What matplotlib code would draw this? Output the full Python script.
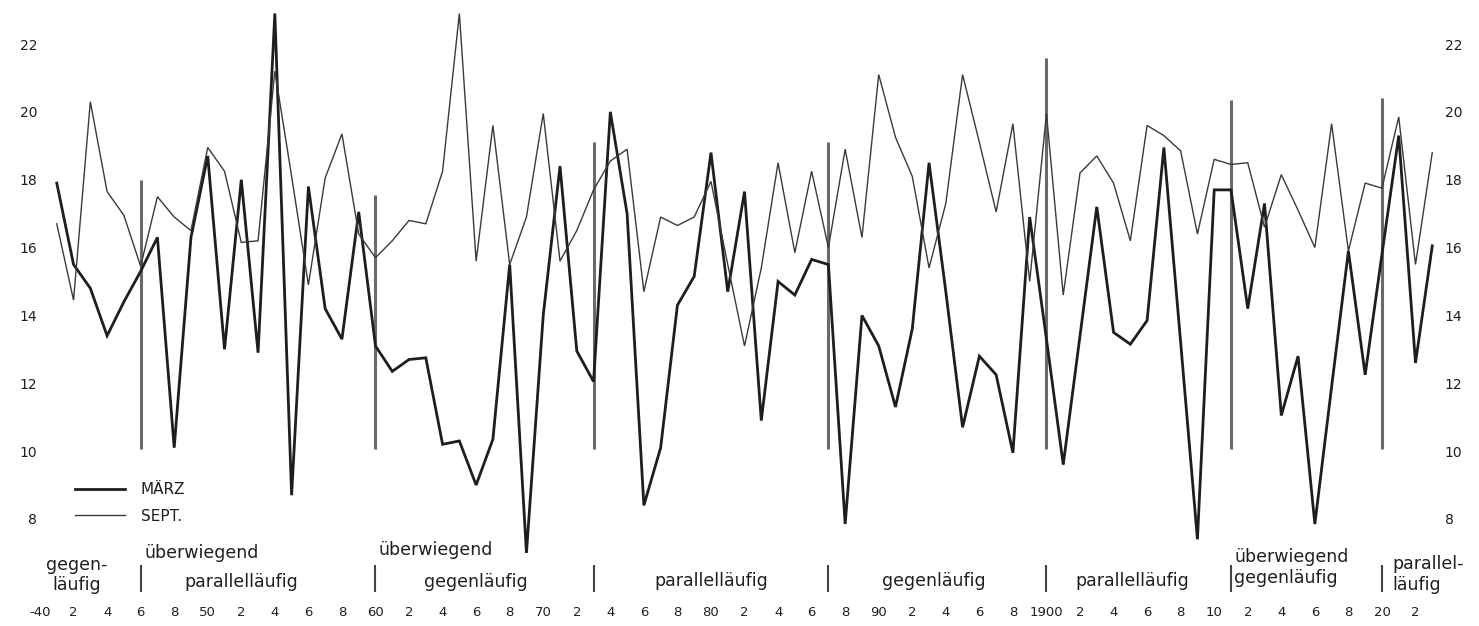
import matplotlib.pyplot as plt
import numpy as np

# Jahresmittel (Wasserstand) März / September, 1841-1923
years = np.arange(1841, 1924)
maerz = [17.9, 15.5, 14.8, 13.4, 14.4, 15.3, 16.3, 10.1, 16.3, 18.7,
         13.0, 18.0, 12.9, 22.9, 8.7, 17.8, 14.2, 13.3, 17.05, 13.1,
         12.35, 12.7, 12.75, 10.2, 10.3, 9.0, 10.35, 15.5, 7.0, 14.0,
         18.4, 12.95, 12.05, 20.0, 17.0, 8.4, 10.1, 14.3, 15.15, 18.8,
         14.7, 17.65, 10.9, 15.0, 14.6, 15.65, 15.5, 7.85, 14.0, 13.1,
         11.3, 13.6, 18.5, 14.7, 10.7, 12.8, 12.25, 9.95, 16.9, 13.3,
         9.6, 13.4, 17.2, 13.5, 13.15, 13.85, 18.95, 13.2, 7.4, 17.7,
         17.7, 14.2, 17.3, 11.05, 12.8, 7.85, 11.9, 15.9, 12.25, 15.8,
         19.3, 12.6, 16.05]
sept = [16.7, 14.45, 20.3, 17.65, 16.95, 15.45, 17.5, 16.9, 16.5, 18.95,
        18.25, 16.15, 16.2, 21.2, 18.1, 14.9, 18.05, 19.35, 16.4, 15.7,
        16.2, 16.8, 16.7, 18.25, 22.9, 15.6, 19.6, 15.5, 16.9, 19.95,
        15.6, 16.5, 17.7, 18.55, 18.9, 14.7, 16.9, 16.65, 16.9, 17.95,
        15.5, 13.1, 15.4, 18.5, 15.85, 18.25, 16.0, 18.9, 16.3, 21.1,
        19.25, 18.1, 15.4, 17.3, 21.1, 19.1, 17.05, 19.65, 15.0, 19.95,
        14.6, 18.2, 18.7, 17.9, 16.2, 19.6, 19.3, 18.85, 16.4, 18.6,
        18.45, 18.5, 16.6, 18.15, 17.1, 16.0, 19.65, 15.9, 17.9, 17.75,
        19.85, 15.5, 18.8]

tick_years = np.arange(1840, 1923, 2)
tick_labels = ['-40', '2', '4', '6', '8', '50', '2', '4', '6', '8',
               '60', '2', '4', '6', '8', '70', '2', '4', '6', '8',
               '80', '2', '4', '6', '8', '90', '2', '4', '6', '8',
               '1900', '2', '4', '6', '8', '10', '2', '4', '6', '8',
               '20', '2']

# Grenzen der Abschnitte
sep_years = [1846, 1860, 1873, 1887, 1900, 1911, 1920]
sep_tops = [18.0, 17.55, 19.1, 19.1, 21.6, 20.35, 20.4]
sep_bottom = 10.05

phase_texts = ['gegen-\nläufig', 'überwiegend', 'parallelläufig',
               'überwiegend', 'gegenläufig', 'parallelläufig', 'gegenläufig',
               'parallelläufig', 'überwiegend\ngegenläufig', 'parallel-\nläufig']
phase_x = [1842.2, 1846.2, 1852.0, 1860.2, 1866.0, 1880.0, 1893.3,
           1905.1, 1911.2, 1920.6]
phase_y = [-0.027, 0.013, -0.040, 0.018, -0.040, -0.038, -0.038,
           -0.038, -0.014, -0.026]
phase_ha = ['center', 'left', 'center', 'left', 'center', 'center', 'center',
            'center', 'left', 'left']

W, H = 1479, 626
fig = plt.figure(figsize=(W / 100, H / 100), dpi=100)
ax = fig.add_axes([40 / W, 1 - 560 / H, 1402 / W, 555 / H])

ink = '#1e1e1e'
ax.plot(years, maerz, color=ink, lw=2.0, label='MÄRZ', clip_on=False,
        solid_joinstyle='miter')
ax.plot(years, sept, color='#3a3a3a', lw=1.0, label='SEPT.', clip_on=False,
        solid_joinstyle='miter')

ax.vlines(sep_years, sep_bottom, sep_tops, color='#6a6a6a', lw=2.2, zorder=1)
# kurze Trennstriche zwischen den Beschriftungen
ax.vlines(sep_years, -0.058, -0.009, transform=ax.get_xaxis_transform(),
          color='#444444', lw=1.5, clip_on=False)

for txt, x, y, ha in zip(phase_texts, phase_x, phase_y, phase_ha):
    ax.text(x, y, txt, transform=ax.get_xaxis_transform(), ha=ha, va='center',
            fontsize=12.5, color=ink, linespacing=1.2)

ax.set_xlim(1840.76, 1923.58)
ax.set_ylim(6.79, 23.15)
ax.set_yticks(np.arange(8, 23, 2))
ax.set_xticks(tick_years)
ax.set_xticklabels(tick_labels)
ax.tick_params(axis='x', length=0, pad=33, labelsize=9.5, colors=ink)
ax.tick_params(axis='y', length=0, labelsize=10, colors=ink,
               left=False, right=False, labelleft=True, labelright=True)
for t in ax.yaxis.get_major_ticks():
    t.label2.set_horizontalalignment('left')
    t.set_pad(2)
for s in ax.spines.values():
    s.set_visible(False)

leg = ax.legend(loc='upper left', bbox_to_anchor=(0.025, 0.14), frameon=False,
                fontsize=11, handlelength=3.3, handletextpad=1.0,
                labelspacing=0.75, borderpad=0, borderaxespad=0)
for t in leg.get_texts():
    t.set_color(ink)

fig.savefig('out.png', dpi=100, facecolor='white')
